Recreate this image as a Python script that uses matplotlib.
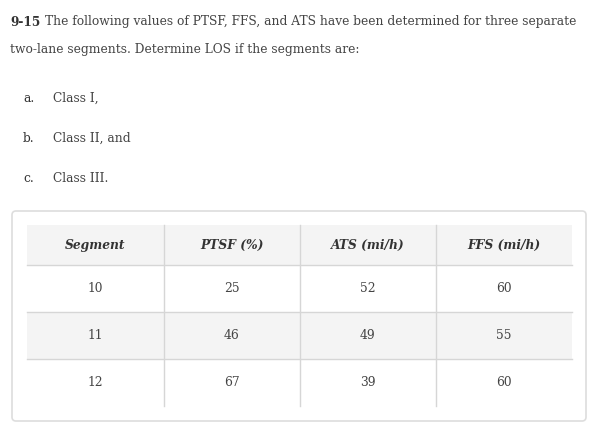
import matplotlib.pyplot as plt
from matplotlib.patches import FancyBboxPatch, Rectangle

# table data
columns = ["Segment", "PTSF (%)", "ATS (mi/h)", "FFS (mi/h)"]
segments = [10, 11, 12]
ptsf = [25, 46, 67]
ats = [52, 49, 39]
ffs = [60, 55, 60]

items = [("a.", "Class I,"), ("b.", "Class II, and"), ("c.", "Class III.")]

FONT = "DejaVu Serif"
TXT = "#444444"
FS = 8.85

fig = plt.figure(figsize=(5.98, 4.32), dpi=100)
ax = fig.add_axes([0, 0, 1, 1])
ax.set_xlim(0, 598)
ax.set_ylim(432, 0)
ax.axis("off")

# problem statement
ax.text(10, 22, "9-15", fontsize=FS, family=FONT, weight="bold", color="#333333", va="center")
ax.text(45, 22, "The following values of PTSF, FFS, and ATS have been determined for three separate",
        fontsize=FS, family=FONT, color=TXT, va="center")
ax.text(10, 50, "two-lane segments. Determine LOS if the segments are:",
        fontsize=FS, family=FONT, color=TXT, va="center")
for i, (lbl, txt) in enumerate(items):
    y = 98 + i * 40
    ax.text(23, y, lbl, fontsize=FS, family=FONT, color="#333333", va="center")
    ax.text(53, y, txt, fontsize=FS, family=FONT, color=TXT, va="center")

# outer rounded box
ax.add_patch(FancyBboxPatch((12, 211), 574, 210, boxstyle="round,pad=0,rounding_size=4",
                            fc="white", ec="#dddddd", lw=1.2))

# table
col_x = [27, 164, 300, 436, 572]
row_y = [225, 265, 312, 359, 406]
ax.add_patch(Rectangle((col_x[0], row_y[0]), col_x[-1] - col_x[0], row_y[1] - row_y[0], fc="#f4f4f4", ec="none"))
ax.add_patch(Rectangle((col_x[0], row_y[2]), col_x[-1] - col_x[0], row_y[3] - row_y[2], fc="#f4f4f4", ec="none"))
for y in row_y[1:4]:
    ax.plot([col_x[0], col_x[-1]], [y, y], color="#d6d6d6", lw=1)
for x in col_x[1:4]:
    ax.plot([x, x], [row_y[0], row_y[-1]], color="#d6d6d6", lw=1)

for j, c in enumerate(columns):
    cx = (col_x[j] + col_x[j + 1]) / 2
    ax.text(cx, (row_y[0] + row_y[1]) / 2, c, fontsize=FS, family=FONT, weight="bold",
            style="italic", color="#333333", ha="center", va="center")
for i, row in enumerate(zip(segments, ptsf, ats, ffs)):
    cy = (row_y[i + 1] + row_y[i + 2]) / 2
    for j, v in enumerate(row):
        cx = (col_x[j] + col_x[j + 1]) / 2
        ax.text(cx, cy, str(v), fontsize=FS, family=FONT, color=TXT, ha="center", va="center")

fig.savefig("out.png", dpi=100)
